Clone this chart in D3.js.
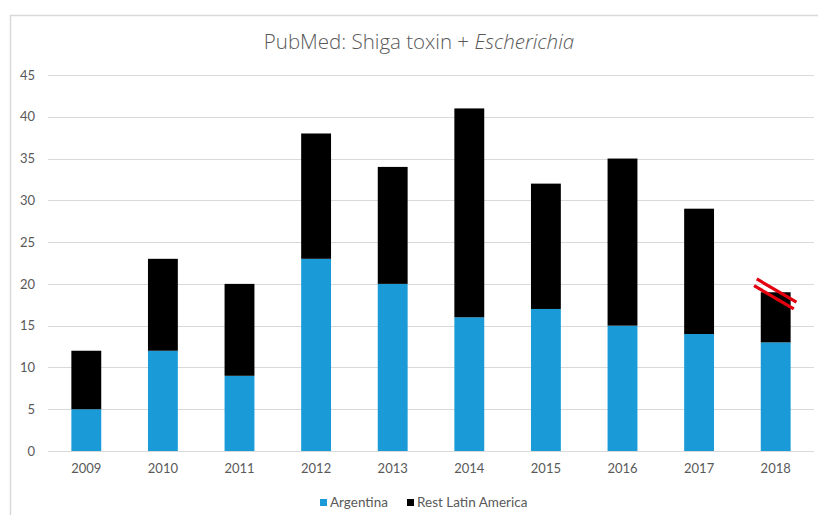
<!DOCTYPE html>
<html><head><meta charset="utf-8">
<script src="https://cdn.jsdelivr.net/npm/d3@7"></script>
<style>
html,body{margin:0;padding:0;background:#fff;}
svg{display:block;font-family:Lato,"Open Sans",sans-serif;}
</style></head>
<body>
<svg id="chart" width="818" height="515"></svg>
<script>
const years = ["2009","2010","2011","2012","2013","2014","2015","2016","2017","2018"];
const argentina = [5,12,9,23,20,16,17,15,14,13];
const restLatinAmerica = [7,11,11,15,14,25,15,20,15,6];
const yTicks = [0,5,10,15,20,25,30,35,40,45];
const seriesNames = ["Argentina","Rest Latin America"];
const seriesColors = ["#1a9bd7","#000000"];

const svg = d3.select("#chart");
const W = 818, H = 515;
const m = {left:48, right:4, top:75, bottom:64};

// frame
svg.append("path").attr("d", `M10.5,${H} V15.5 H${W}`).attr("fill","none").attr("stroke","#d9d9d9").attr("stroke-width",1.5);

const x = d3.scaleBand().domain(years).range([m.left, W - m.right]).paddingInner(0.61).paddingOuter(0.305);
const y = d3.scaleLinear().domain([0,45]).range([H - m.bottom, m.top]);

// gridlines
svg.append("g").selectAll("line").data(yTicks).join("line")
  .attr("x1", m.left).attr("x2", W - m.right)
  .attr("y1", d => Math.round(y(d)) + 0.5).attr("y2", d => Math.round(y(d)) + 0.5)
  .attr("stroke", "#d9d9d9").attr("stroke-width", 1);

// y labels
const yAxis = d3.axisLeft(y).tickValues(yTicks).tickSize(0).tickPadding(13);
const gy = svg.append("g").attr("transform", `translate(${m.left},0)`).call(yAxis);
gy.select(".domain").remove();
gy.selectAll("text").attr("fill","#595959").style("font-size","13px").style("font-family","Lato,'Open Sans',sans-serif");

// x labels
const xAxis = d3.axisBottom(x).tickSize(0).tickPadding(13);
const gx = svg.append("g").attr("transform", `translate(0,${y(0)})`).call(xAxis);
gx.select(".domain").remove();
gx.selectAll("text").attr("fill","#595959").style("font-size","13px").style("font-family","Lato,'Open Sans',sans-serif");

// stacked data
const rows = years.map((yr,i) => ({year:yr, a:argentina[i], r:restLatinAmerica[i]}));
const stack = d3.stack().keys(["a","r"])(rows);
svg.append("g").selectAll("g").data(stack).join("g")
  .attr("fill", (d,i) => seriesColors[i])
  .selectAll("rect").data(d => d).join("rect")
  .attr("x", d => x(d.data.year))
  .attr("width", x.bandwidth())
  .attr("y", d => y(d[1]))
  .attr("height", d => y(d[0]) - y(d[1]));

// red strike mark on 2018 bar
const last = years[years.length-1];
const cx = x(last) + x.bandwidth()/2;
const total18 = argentina[9] + restLatinAmerica[9];
const strike = svg.append("g").attr("stroke","#e3000f").attr("stroke-width",3.2).attr("stroke-linecap","butt");
[[0.9, 0.2],[-1.8, -0.6]].forEach(([dx, dv]) => {
  const c = [cx + dx, y(total18 + dv)];
  const half = 23, ang = Math.atan2(24, 41);
  strike.append("line")
    .attr("x1", c[0] - half*Math.cos(ang)).attr("y1", c[1] - half*Math.sin(ang))
    .attr("x2", c[0] + half*Math.cos(ang)).attr("y2", c[1] + half*Math.sin(ang));
});

// title
const title = svg.append("text").attr("x", 419).attr("y", 49).attr("text-anchor","middle")
  .attr("fill","#595959").style("font-size","20.5px").style("font-family","'Open Sans',sans-serif").style("font-weight","300");
title.append("tspan").text("PubMed: Shiga toxin + ");
title.append("tspan").attr("font-style","italic").text("Escherichia");

// legend
const legend = svg.append("g").attr("transform","translate(320,502)");
const items = [{name:seriesNames[0], color:seriesColors[0], dx:0},{name:seriesNames[1], color:seriesColors[1], dx:87}];
items.forEach(it => {
  const g = legend.append("g").attr("transform",`translate(${it.dx},0)`);
  g.append("rect").attr("x",0).attr("y",-3).attr("width",7).attr("height",7).attr("fill",it.color);
  g.append("text").attr("x",10).attr("y",5).attr("fill","#595959").style("font-size","13.5px").text(it.name);
});
</script>
</body></html>
